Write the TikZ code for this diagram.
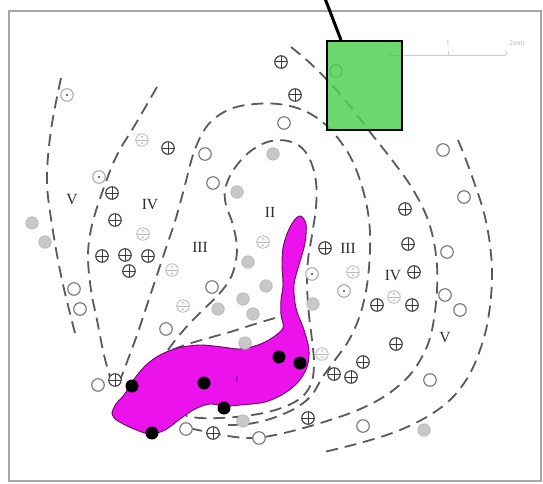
\documentclass[tikz,border=0pt]{standalone}
\usepackage{fontspec}
\setmainfont{Liberation Serif}
\definecolor{bndc}{RGB}{90,90,90}
\definecolor{symdark}{RGB}{60,60,60}
\definecolor{symmid}{RGB}{115,115,115}
\definecolor{symlight}{RGB}{170,170,170}
\definecolor{gfill}{RGB}{200,200,200}
\definecolor{bodyfill}{RGB}{236,18,236}
\definecolor{bodyline}{RGB}{110,0,110}
\definecolor{boxgreen}{RGB}{78,206,78}
\definecolor{numc}{RGB}{45,45,45}
\begin{document}
\begin{tikzpicture}[x=1pt,y=-1pt,
  bnd/.style={draw=bndc, line width=1.8pt, dash pattern=on 12pt off 7pt},
  sym/.style={circle, minimum size=12.5pt, inner sep=0pt, line width=1.1pt, fill=white},
  oplus/.style={sym, draw=symdark, path picture={\draw[symdark, line width=1pt]
     (path picture bounding box.north) -- (path picture bounding box.south)
     (path picture bounding box.west) -- (path picture bounding box.east);}},
  ocirc/.style={sym, draw=symmid},
  odot/.style={sym, draw=symlight, path picture={\fill[black!75] (path picture bounding box.center) circle (1.2pt);}},
  gdisk/.style={sym, fill=gfill, draw=gfill!90!black, line width=0.6pt},
  face/.style={sym, draw=symlight!80, fill=gray!5, line width=0.8pt, path picture={
     \draw[symlight!80, line width=0.7pt] (path picture bounding box.west) -- (path picture bounding box.east);
     \fill[symlight] ([yshift=3.3pt]path picture bounding box.center) circle (0.9pt);
     \fill[symlight] ([yshift=-3.3pt]path picture bounding box.center) circle (0.9pt);}},
  bdot/.style={circle, fill=black, minimum size=13pt, inner sep=0pt},
  num/.style={font=\fontsize{15.5}{15.5}\selectfont, text=numc, inner sep=0pt},
  scl/.style={font=\fontsize{7.5}{7.5}\selectfont, text=gray!55, inner sep=0pt}
]
\useasboundingbox (0,0) rectangle (543,484);
\fill[white] (0,0) rectangle (543,484);
% frame
\draw[gray!70, line width=1.6pt] (9,11) rectangle (541,481);

% scale bar
\draw[gray!40, line width=0.8pt] (389,55) -- (506,55);
\foreach \sx in {390,448,506} \draw[gray!40, line width=0.8pt] (\sx,55) -- (\sx,51);
\node[scl] (s0) at (390,43) {0};
\node[scl] (s1) at (448,43) {1};
\node[scl] (s2) at (517,43) {2mm};

% boundaries
\draw[bnd] plot[smooth, tension=0.6] coordinates {(61,78) (51,130) (47,180) (52,225) (62,280) (76,337)};
\draw[bnd] plot[smooth, tension=0.6] coordinates {(157,87) (135,125) (117,155) (103,190) (92,225) (88,255) (91,290) (97,320) (104,355) (111,380)};
\draw[bnd] plot[smooth, tension=0.6] coordinates {(119,383) (127,362) (137,335) (147,305) (157,275) (166,248) (176,218) (185,185) (193,155) (203,132) (215,118) (233,108) (255,104) (278,104) (300,109) (320,120) (337,137) (352,160) (363,190) (369,220) (370,250) (367,285) (360,315) (349,340) (335,360) (322,378) (311,396) (294,409) (270,419) (248,424) (228,425)};
\draw[bnd] plot[smooth, tension=0.6] coordinates {(168,350) (177,338) (190,323) (205,308) (220,293) (232,275) (237,250) (233,225) (226,205) (225,190) (231,174) (242,159) (255,148) (271,141) (288,141) (302,148) (311,162) (316,182) (316,207) (312,235) (308,260) (307,285) (309,315) (312,340) (314,362) (312,381) (304,395) (289,405) (268,412) (245,416) (220,418) (200,418) (186,416)};
\draw[bnd] plot[smooth, tension=0.6] coordinates {(275,318) (255,324) (230,332) (205,339) (185,345) (167,352)};
\draw[bnd] plot[smooth, tension=0.6] coordinates {(291,47) (310,63) (330,83) (350,106) (370,132) (392,160) (412,188) (428,220) (436,255) (437,290) (432,330) (423,355) (408,377) (385,396) (358,410) (330,420) (300,429) (275,435) (255,438) (235,437) (213,433) (193,429)};
\draw[bnd] plot[smooth, tension=0.6] coordinates {(458,140) (466,160) (475,185) (484,213) (490,245) (492,280) (488,320) (480,350) (468,377) (450,400) (425,418) (395,432) (360,443) (320,453)};

% body I
\draw[draw=bodyline, fill=bodyfill, line width=0.9pt] plot[smooth cycle, tension=0.55] coordinates {
 (300,216) (306,224) (305,243) (299,265) (294,285) (296,308) (304,330) (309,350) (307,367)
 (299,381) (285,393) (265,402) (240,405) (225,406) (210,404) (195,409) (180,419) (165,430)
 (150,434) (134,429) (118,421) (112,414) (116,404) (124,395) (132,382) (145,366) (160,355)
 (178,348) (200,345) (222,347) (240,349) (258,345) (272,338) (283,328) (281,315) (281,300)
 (283,285) (282,265) (283,248) (287,234) (293,222)};
\node[font=\fontsize{9}{9}\selectfont, text=bodyline, inner sep=0pt] (lI) at (237,380) {I};

% symbols
\foreach [count=\i] \p in {(168,148),(112,193),(115,220),(102,256),(125,255),(148,256),(129,271),(281,62),(295,95),(325,248),(405,209),(408,244),(414,272),(377,305),(412,305),(396,344),(363,362),(334,374),(351,377),(308,418),(213,433),(115,380)}
  \node[oplus] (op\i) at \p {};
\foreach [count=\i] \p in {(205,154),(213,183),(284,123),(336,71),(443,150),(464,197),(447,252),(445,295),(460,310),(212,287),(166,329),(74,289),(80,309),(98,385),(186,429),(259,438),(363,426),(430,380)}
  \node[ocirc] (oc\i) at \p {};
\foreach [count=\i] \p in {(67,95),(99,177),(312,274),(344,291)}
  \node[odot] (od\i) at \p {};
\foreach [count=\i] \p in {(32,223),(45,242),(237,192),(273,154),(248,262),(266,286),(243,299),(253,314),(218,309),(313,304),(245,343),(243,421),(424,430)}
  \node[gdisk] (gd\i) at \p {};
\foreach [count=\i] \p in {(142,140),(143,234),(172,270),(263,242),(183,306),(353,272),(394,297),(322,354)}
  \node[face] (fc\i) at \p {};

% black dots
\foreach [count=\i] \p in {(132,386),(204,383),(224,408),(152,433),(279,357),(300,363)}
  \node[bdot] (bd\i) at \p {};

% zone labels
\node[num] (z1) at (72,200) {V};
\node[num] (z2) at (150,205) {IV};
\node[num] (z3) at (200,247) {III};
\node[num] (z4) at (270,212) {II};
\node[num] (z5) at (348,248) {III};
\node[num] (z6) at (393,276) {IV};
\node[num] (z7) at (445,338) {V};

% green box and pointer
\node[draw=black, line width=2pt, fill=boxgreen, fill opacity=0.82, minimum width=75pt, minimum height=89pt, inner sep=0pt, anchor=north west] (gbox) at (326,40) {};
\coordinate (ltop) at (324,-4);
\coordinate (lend) at (341,40);
\draw[black, line width=3pt] (ltop) -- (lend);
\end{tikzpicture}
\end{document}
